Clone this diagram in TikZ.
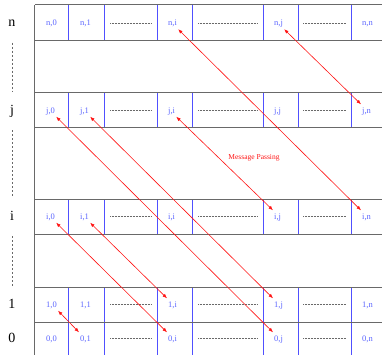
\documentclass[tikz,border=0pt]{standalone}
\usepackage{fontspec}
\setmainfont{Liberation Serif}
\usetikzlibrary{arrows.meta}
\definecolor{GridGray}{RGB}{105,105,105}
\definecolor{CellBlue}{RGB}{80,80,255}
\definecolor{LabelBlue}{RGB}{90,100,255}
\definecolor{MsgRed}{RGB}{255,20,20}

\begin{document}
\begin{tikzpicture}[
    x=1pt, y=-1pt,
    hline/.style={draw=GridGray, line width=1pt},
    cellwall/.style={draw=CellBlue, line width=1pt},
    rowlbl/.style={anchor=base, inner sep=0pt, text height=10pt, text depth=3pt,
        font=\fontsize{14}{15}\selectfont},
    celllbl/.style={anchor=base west, inner sep=1pt, text height=8pt, text depth=2pt,
        text=LabelBlue, font=\fontsize{8.5}{9}\selectfont},
    dotline/.style={draw=GridGray, densely dotted, line width=0.5pt},
    rowdash/.style={draw=GridGray, dash pattern=on 2pt off 2pt, line width=0.6pt,
        shorten <=12.5pt, shorten >=12.5pt},
    msg/.style={draw=MsgRed, line width=0.6pt,
        {Latex[length=4.5pt,width=3.5pt]}-{Latex[length=4.5pt,width=3.5pt]}}
]
\useasboundingbox (0,0) rectangle (382,355);

% cell walls
\foreach \yt/\yb in {5/41, 93/128, 199/234, 287/355}
  \foreach \xw in {68.5,104.5,157.5,192.5,263.5,298.5,351.5}
    \draw[cellwall] (\xw,\yt) -- (\xw,\yb);

% row lines
\foreach \yh in {5,41,93,128,199,234,287,322}
  \draw[hline] (35,\yh) -- (382,\yh);
\draw[hline] (34.5,5) -- (34.5,355);

% rows: name/centre
\foreach \r/\ym in {n/23, j/110.5, i/216.5, 1/304.5, 0/338.5} {
  \node[rowlbl] (row-\r) at (12,\ym+4) {\r};
  \foreach \c/\xc in {0/35, 1/69, i/157, j/263, n/351}
    \node[celllbl] (\r-\c) at (\xc+10,\ym+3) {\r,\c};
  \foreach \xa/\xb in {105/157, 193/263, 298/351}
    \draw[dotline] (\xa+5,\ym) -- (\xb-5,\ym);
}

% skipped rows
\draw[rowdash] (row-n) -- (row-j);
\draw[rowdash] (row-j) -- (row-i);
\draw[rowdash] (row-i) -- (row-1);

% exchanges
\foreach \a/\b in {n-i/i-n, n-j/j-n, j-0/0-j, j-1/1-j, j-i/i-j, i-0/0-i, i-1/1-i, 1-0/0-1}
  \draw[msg] (\a.south east) -- (\b.north west);

\node[text=MsgRed, font=\fontsize{7.5}{8}\selectfont] (mp) at (254,158) {Message Passing};

\end{tikzpicture}
\end{document}
